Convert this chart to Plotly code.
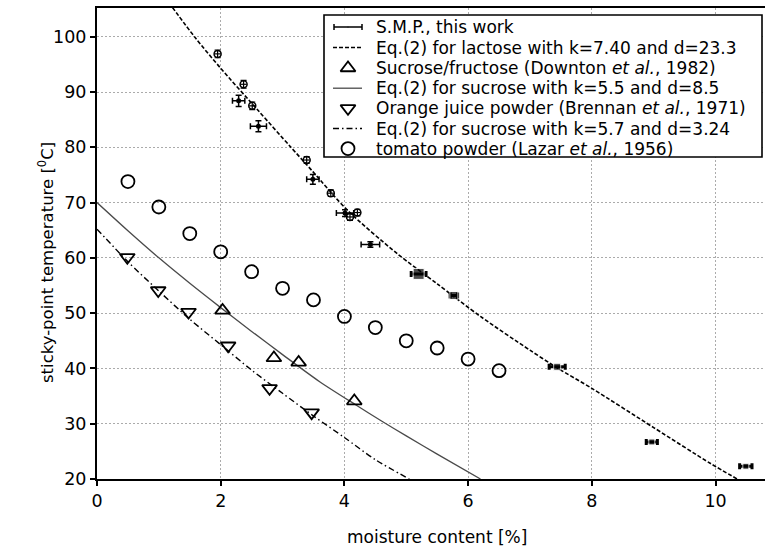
import plotly.graph_objects as go

# ---------------------------------------------------------------- data
# S.M.P. sticky points, this work (moisture %, sticky-point temperature degC)
smp_open_x = [1.95, 2.37, 2.51, 3.39, 3.78, 4.09, 4.21]
smp_open_y = [96.9, 91.4, 87.5, 77.7, 71.7, 67.4, 68.2]
smp_open_xerr = [0.05, 0.05, 0.05, 0.05, 0.05, 0.05, 0.05]
smp_open_yerr = [0.7, 0.7, 0.7, 0.6, 0.6, 0.6, 0.6]

smp_cross_x = [2.29, 2.61, 3.49, 4.01, 4.42]
smp_cross_y = [88.4, 83.8, 74.2, 68.1, 62.4]
smp_cross_xerr = [0.10, 0.13, 0.10, 0.14, 0.15]
smp_cross_yerr = [1.0, 1.0, 0.9, 0.6, 0.5]

smp_solid_x = [5.20, 5.77, 7.44, 8.97, 10.49]
smp_solid_y = [57.1, 53.2, 40.3, 26.7, 22.3]
smp_solid_xerr = [0.12, 0.06, 0.13, 0.09, 0.10]

# Eq.(2) for lactose, k=7.40, d=23.3
lactose_x = [1.22, 1.59, 2.0, 2.61, 3.12, 3.49, 4.05, 4.85, 5.5,
             6.2, 7.0, 7.44, 8.0, 9.0, 9.92, 10.35]
lactose_y = [105.3, 99.8, 94.3, 86.6, 80.2, 75.6, 68.6, 60.8, 55.3,
             49.4, 43.3, 40.1, 36.4, 29.3, 22.8, 20.0]

# Sucrose/fructose (Downton et al., 1982)
sucfru_x = [2.03, 2.86, 3.26, 4.16]
sucfru_y = [50.5, 41.9, 41.1, 34.1]

# Eq.(2) for sucrose, k=5.5, d=8.5
suc55_x = [0.0, 0.5, 1.0, 1.5, 2.0, 2.5, 3.0, 3.6, 4.2, 4.6, 5.0, 5.5, 6.2]
suc55_y = [70.0, 64.9, 60.0, 55.4, 51.0, 46.7, 42.5, 37.6, 33.3, 30.5, 27.8, 24.5, 20.0]

# Orange juice powder (Brennan et al., 1971)
orange_x = [0.49, 0.99, 1.48, 2.12, 2.79, 3.47]
orange_y = [60.1, 54.1, 50.2, 44.1, 36.4, 32.0]

# Eq.(2) for sucrose, k=5.7, d=3.24
suc57_x = [0.0, 0.5, 1.0, 1.5, 2.0, 2.5, 3.0, 3.5, 4.0, 4.5, 5.05]
suc57_y = [65.2, 59.3, 54.0, 48.9, 44.3, 39.7, 35.5, 31.4, 27.5, 23.5, 20.0]

# tomato powder (Lazar et al., 1956)
tomato_x = [0.5, 1.0, 1.5, 2.0, 2.5, 3.0, 3.5, 4.0, 4.5, 5.0, 5.5, 6.0, 6.5]
tomato_y = [73.8, 69.2, 64.4, 61.1, 57.5, 54.5, 52.4, 49.4, 47.4, 45.0, 43.7, 41.7, 39.6]

x_ticks = [0, 2, 4, 6, 8, 10]
y_ticks = [20, 30, 40, 50, 60, 70, 80, 90, 100]

legend_labels = [
    "S.M.P., this work",
    "Eq.(2) for lactose with k=7.40 and d=23.3",
    "Sucrose/fructose (Downton <i>et al.</i>, 1982)",
    "Eq.(2) for sucrose with k=5.5 and d=8.5",
    "Orange juice powder (Brennan <i>et al.</i>, 1971)",
    "Eq.(2) for sucrose with k=5.7 and d=3.24",
    "tomato powder (Lazar <i>et al.</i>, 1956)",
]

# ---------------------------------------------------------------- layout geometry
W, H = 765, 552
L, R, T, B = 97, 0, 8, 73
X_RANGE = [0, 10.8]
Y_RANGE = [20, 105.2]
FONT = "DejaVu Sans"

plot_w = W - L - R
plot_h = H - T - B


def px_x(px):
    """page pixel column -> moisture axis value"""
    return X_RANGE[0] + (px - L) / plot_w * (X_RANGE[1] - X_RANGE[0])


def px_y(py):
    """page pixel row -> temperature axis value"""
    return Y_RANGE[0] + (H - B - py) / plot_h * (Y_RANGE[1] - Y_RANGE[0])


LACTOSE_DASH = "4px,2px"
DASHDOT = "6px,3px,1.5px,3px"
SUC55_COLOR = "#4a4a4a"
OPEN_MARKER = dict(size=13, color="black", line=dict(color="black", width=1.8))

fig = go.Figure()

# model curves (smoothed through the read-off points)
fig.add_trace(go.Scatter(x=lactose_x, y=lactose_y, mode="lines",
                         line=dict(color="black", width=1.6, dash=LACTOSE_DASH,
                                   shape="spline", smoothing=0.8)))
fig.add_trace(go.Scatter(x=suc55_x, y=suc55_y, mode="lines",
                         line=dict(color=SUC55_COLOR, width=1.3,
                                   shape="spline", smoothing=0.8)))
fig.add_trace(go.Scatter(x=suc57_x, y=suc57_y, mode="lines",
                         line=dict(color="black", width=1.4, dash=DASHDOT,
                                   shape="spline", smoothing=0.8)))

# literature data
fig.add_trace(go.Scatter(x=tomato_x, y=tomato_y, mode="markers",
                         marker=dict(symbol="circle-open", **OPEN_MARKER)))
fig.add_trace(go.Scatter(x=sucfru_x, y=sucfru_y, mode="markers",
                         marker=dict(symbol="triangle-up-open", **OPEN_MARKER)))
fig.add_trace(go.Scatter(x=orange_x, y=orange_y, mode="markers",
                         marker=dict(symbol="triangle-down-open", **OPEN_MARKER)))

# S.M.P. measurements with error bars
fig.add_trace(go.Scatter(
    x=smp_open_x, y=smp_open_y, mode="markers",
    marker=dict(symbol="circle-open", size=7, color="black",
                line=dict(color="black", width=1.5)),
    error_x=dict(type="data", array=smp_open_xerr, color="black", thickness=1.2, width=0),
    error_y=dict(type="data", array=smp_open_yerr, color="black", thickness=1.2, width=3)))
fig.add_trace(go.Scatter(
    x=smp_cross_x, y=smp_cross_y, mode="markers",
    marker=dict(symbol="circle", size=5, color="black"),
    error_x=dict(type="data", array=smp_cross_xerr, color="black", thickness=1.5, width=3),
    error_y=dict(type="data", array=smp_cross_yerr, color="black", thickness=1.5, width=3)))
fig.add_trace(go.Scatter(
    x=smp_solid_x, y=smp_solid_y, mode="markers",
    marker=dict(symbol="square", size=[11, 8, 7, 6, 6], color="black"),
    error_x=dict(type="data", array=smp_solid_xerr, color="black", thickness=3, width=3)))

# ---------------------------------------------------------------- legend box
box_px = dict(x0=324, x1=762, y0=15, y1=157)
fig.add_shape(type="rect", xref="x", yref="y",
              x0=px_x(box_px["x0"]), x1=px_x(box_px["x1"]),
              y0=px_y(box_px["y1"]), y1=px_y(box_px["y0"]),
              line=dict(color="black", width=1.6), fillcolor="white", layer="between")

row_py = [27, 47.5, 68, 88.2, 108.4, 128.5, 148.6]
sym_x0, sym_x1, sym_xc, text_px = 333, 362, 348, 374

# row 1: error bar sample
fig.add_trace(go.Scatter(
    x=[px_x(sym_xc)], y=[px_y(row_py[0])], mode="markers",
    marker=dict(size=1, color="black"),
    error_x=dict(type="constant", value=px_x(sym_x1) - px_x(sym_xc),
                 color="black", thickness=1.5, width=3)))
# line samples
for row, style in [(1, dict(color="black", width=1.6, dash=LACTOSE_DASH)),
                   (3, dict(color=SUC55_COLOR, width=1.3)),
                   (5, dict(color="black", width=1.4, dash=DASHDOT))]:
    fig.add_trace(go.Scatter(x=[px_x(sym_x0), px_x(sym_x1)],
                             y=[px_y(row_py[row])] * 2, mode="lines", line=style))
# marker samples
for row, sym in [(2, "triangle-up-open"), (4, "triangle-down-open"), (6, "circle-open")]:
    fig.add_trace(go.Scatter(x=[px_x(sym_xc)], y=[px_y(row_py[row])], mode="markers",
                             marker=dict(symbol=sym, **OPEN_MARKER)))

for row, label in enumerate(legend_labels):
    fig.add_annotation(x=px_x(text_px), y=px_y(row_py[row]), xref="x", yref="y",
                       text=label, showarrow=False, xanchor="left", yanchor="middle",
                       font=dict(family=FONT, size=17, color="black"))

# ---------------------------------------------------------------- axis titles
fig.add_annotation(xref="paper", yref="paper", x=(46 - L) / plot_w,
                   y=(H - B - 263) / plot_h, text="sticky-point temperature [<sup>0</sup>C]",
                   textangle=-90, showarrow=False, xanchor="center", yanchor="middle",
                   font=dict(family=FONT, size=16.5, color="black"))
fig.add_annotation(xref="paper", yref="paper", x=(437 - L) / plot_w,
                   y=(H - B - 537) / plot_h, text="moisture content [%]",
                   showarrow=False, xanchor="center", yanchor="middle",
                   font=dict(family=FONT, size=17, color="black"))

axis_common = dict(showline=True, linecolor="black", linewidth=2, ticks="outside",
                   tickcolor="black", tickwidth=1.5, ticklen=5, showgrid=True,
                   gridcolor="#ababab", gridwidth=1, griddash="2px,2px", zeroline=False,
                   tickfont=dict(family=FONT, size=17.5, color="black"))
fig.update_xaxes(range=X_RANGE, tickvals=x_ticks, mirror=True, **axis_common)
fig.update_yaxes(range=Y_RANGE, tickvals=y_ticks, **axis_common)

fig.update_layout(width=W, height=H, margin=dict(l=L, r=R, t=T, b=B),
                  plot_bgcolor="white", paper_bgcolor="white", showlegend=False,
                  font=dict(family=FONT, size=17, color="black"))

fig.write_html("out.html")
